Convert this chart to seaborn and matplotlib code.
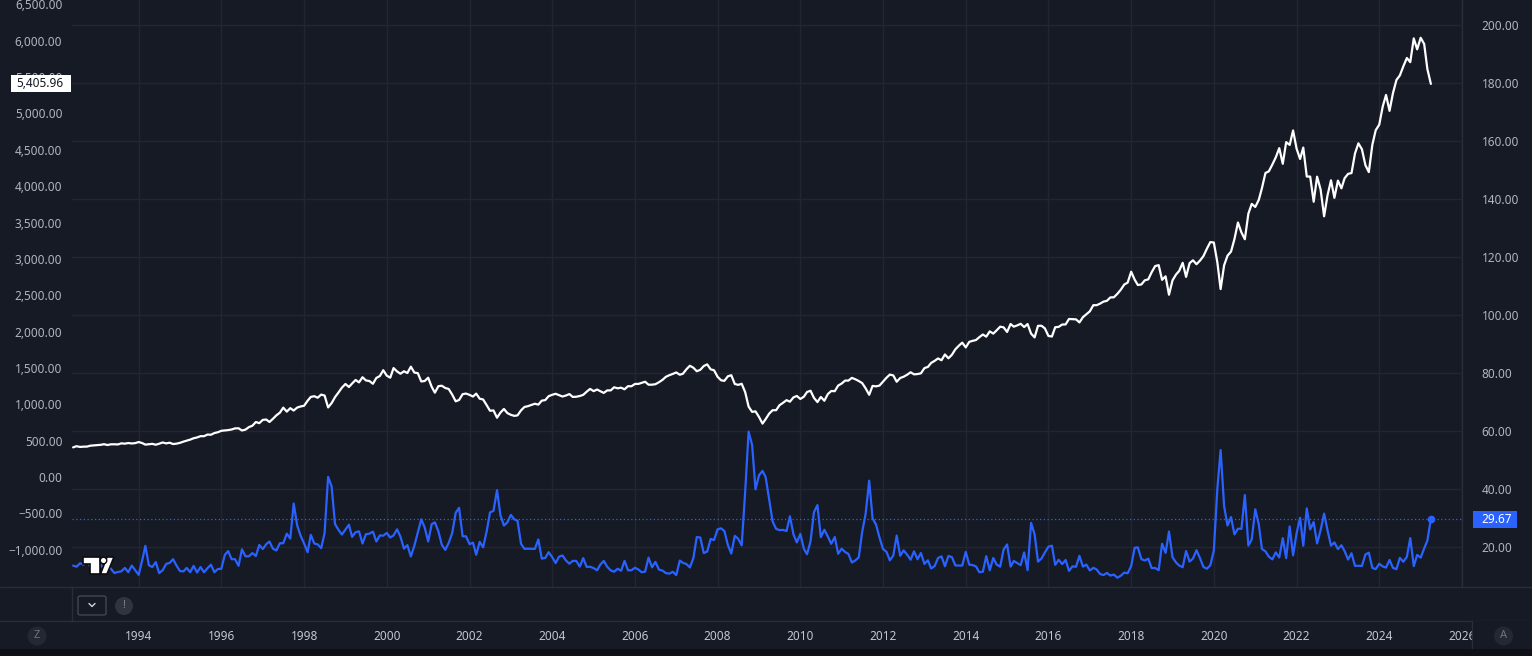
import pandas as pd
import matplotlib
matplotlib.use('Agg')
import matplotlib.pyplot as plt
import matplotlib.dates as mdates
import matplotlib.ticker as mticker
from matplotlib.patches import Rectangle, FancyBboxPatch, Ellipse, Polygon
from matplotlib.lines import Line2D
import seaborn as sns

# monthly closes, first bar is June 1992, last one is the running April 2025 bar
first_month = '1992-06-01'

spx_close = [
    408.14, 424.21, 414.03, 417.80, 418.68, 431.35, 435.71,
    438.78, 443.38, 451.67, 440.19, 450.19, 450.53, 448.13, 463.56, 458.93, 467.83, 461.79, 466.45,
    481.61, 467.14, 445.77, 450.91, 456.50, 444.27, 458.26, 475.49, 462.69, 472.35, 453.69, 459.27,
    470.42, 487.39, 500.71, 514.71, 533.40, 544.75, 562.06, 561.88, 584.41, 581.50, 605.37, 615.93,
    636.02, 640.43, 645.50, 654.17, 669.12, 670.63, 639.95, 651.99, 687.31, 705.27, 757.02, 740.74,
    786.16, 790.82, 757.12, 801.34, 848.28, 885.14, 954.31, 899.47, 947.28, 914.62, 955.40, 970.43,
    980.28, 1049.34, 1101.75, 1111.75, 1090.82, 1133.84, 1120.67, 957.28, 1017.01, 1098.67, 1163.63, 1229.23,
    1279.64, 1238.33, 1286.37, 1335.18, 1301.84, 1372.71, 1328.72, 1320.41, 1282.71, 1362.93, 1388.91, 1469.25,
    1394.46, 1366.42, 1498.58, 1452.43, 1420.60, 1454.60, 1430.83, 1517.68, 1436.51, 1429.40, 1314.95, 1320.28,
    1366.01, 1239.94, 1160.33, 1249.46, 1255.82, 1224.38, 1211.23, 1133.58, 1040.94, 1059.78, 1139.45, 1148.08,
    1130.20, 1106.73, 1147.39, 1076.92, 1067.14, 989.82, 911.62, 916.07, 815.28, 885.76, 936.31, 879.82,
    855.70, 841.15, 848.18, 916.92, 963.59, 974.50, 990.31, 1008.01, 995.97, 1050.71, 1058.20, 1111.92,
    1131.13, 1144.94, 1126.21, 1107.30, 1120.68, 1140.84, 1101.72, 1104.24, 1114.58, 1130.20, 1173.82, 1211.92,
    1181.27, 1203.60, 1180.59, 1156.85, 1191.50, 1191.33, 1234.18, 1220.33, 1228.81, 1207.01, 1249.48, 1248.29,
    1280.08, 1280.66, 1294.83, 1310.61, 1270.09, 1270.20, 1276.66, 1303.82, 1335.85, 1377.94, 1400.63, 1418.30,
    1438.24, 1406.82, 1420.86, 1482.37, 1530.62, 1503.35, 1455.27, 1473.99, 1526.75, 1549.38, 1481.14, 1468.36,
    1378.55, 1330.63, 1322.70, 1385.59, 1400.38, 1280.00, 1267.38, 1282.83, 1166.36, 968.75, 896.24, 903.25,
    825.88, 735.09, 797.87, 872.81, 919.14, 919.32, 987.48, 1020.62, 1057.08, 1036.19, 1095.63, 1115.10,
    1073.87, 1104.49, 1169.43, 1186.69, 1089.41, 1030.71, 1101.60, 1049.33, 1141.20, 1183.26, 1180.55, 1257.64,
    1286.12, 1327.22, 1325.83, 1363.61, 1345.20, 1320.64, 1292.28, 1218.89, 1131.42, 1253.30, 1246.96, 1257.60,
    1312.41, 1365.68, 1408.47, 1397.91, 1310.33, 1362.16, 1379.32, 1406.58, 1440.67, 1412.16, 1416.18, 1426.19,
    1498.11, 1514.68, 1569.19, 1597.57, 1630.74, 1606.28, 1685.73, 1632.97, 1681.55, 1756.54, 1805.81, 1848.36,
    1782.59, 1859.45, 1872.34, 1883.95, 1923.57, 1960.23, 1930.67, 2003.37, 1972.29, 2018.05, 2067.56, 2058.90,
    1994.99, 2104.50, 2067.89, 2085.51, 2107.39, 2063.11, 2103.84, 1972.18, 1920.03, 2079.36, 2080.41, 2043.94,
    1940.24, 1932.23, 2059.74, 2065.30, 2096.95, 2098.86, 2173.60, 2170.95, 2168.27, 2126.15, 2198.81, 2238.83,
    2278.87, 2363.64, 2362.72, 2384.20, 2411.80, 2423.41, 2470.30, 2471.65, 2519.36, 2575.26, 2647.58, 2673.61,
    2823.81, 2713.83, 2640.87, 2648.05, 2705.27, 2718.37, 2816.29, 2901.52, 2913.98, 2711.74, 2760.17, 2506.85,
    2704.10, 2784.49, 2834.40, 2945.83, 2752.06, 2941.76, 2980.38, 2926.46, 2976.74, 3037.56, 3140.98, 3230.78,
    3225.52, 2954.22, 2584.59, 2912.43, 3044.31, 3100.29, 3271.12, 3500.31, 3363.00, 3269.96, 3621.63, 3756.07,
    3714.24, 3811.15, 3972.89, 4181.17, 4204.11, 4297.50, 4395.26, 4522.68, 4307.54, 4605.38, 4567.00, 4766.18,
    4515.55, 4373.94, 4530.41, 4131.93, 4132.15, 3785.38, 4130.29, 3955.00, 3585.62, 3871.98, 4080.11, 3839.50,
    4076.60, 3970.15, 4109.31, 4169.48, 4179.83, 4450.38, 4588.96, 4507.66, 4288.05, 4193.80, 4567.80, 4769.83,
    4845.65, 5096.27, 5254.35, 5035.69, 5277.51, 5460.48, 5522.30, 5648.40, 5762.48, 5705.45, 6032.38, 5881.63,
    6040.53, 5954.50, 5611.85, 5405.96,
]

vix_close = [
    13.7, 13.3, 14.5, 14.0, 15.5, 13.2, 12.6,
    12.8, 14.0, 12.4, 13.5, 12.6, 11.1, 11.5, 11.7, 12.9, 11.4, 13.7, 12.1,
    10.5, 15.5, 20.5, 13.8, 13.2, 14.9, 11.1, 12.1, 14.3, 14.6, 15.9, 13.7,
    11.8, 11.7, 12.9, 11.4, 13.6, 11.3, 13.2, 11.4, 12.8, 14.0, 11.4, 12.5,
    12.6, 17.4, 18.7, 15.9, 15.9, 13.6, 19.3, 16.9, 16.9, 18.0, 17.0, 20.8,
    19.4, 21.1, 22.0, 19.5, 18.9, 21.4, 21.4, 24.7, 23.0, 35.1, 27.5, 24.0,
    21.3, 18.3, 24.3, 21.3, 21.0, 19.7, 24.9, 44.3, 41.0, 28.0, 26.0, 24.4,
    26.1, 27.8, 23.6, 25.2, 25.5, 21.3, 24.5, 24.7, 25.4, 22.0, 24.1, 24.0,
    24.95, 23.37, 24.11, 26.20, 23.65, 19.54, 20.74, 16.84, 20.57, 25.09, 29.65, 26.85,
    22.0, 28.0, 28.6, 25.5, 20.9, 19.1, 21.5, 24.9, 31.9, 33.6, 23.8, 23.8,
    21.1, 21.6, 17.4, 21.9, 20.0, 25.4, 32.0, 32.6, 39.7, 31.1, 27.5, 28.6,
    31.17, 29.63, 29.15, 21.21, 19.47, 19.52, 19.49, 19.44, 22.72, 16.10, 16.32, 18.31,
    16.63, 14.55, 16.74, 17.19, 15.50, 14.34, 15.32, 15.29, 13.34, 16.27, 13.24, 13.29,
    12.82, 12.08, 14.02, 15.31, 13.29, 12.04, 11.57, 12.60, 11.92, 15.32, 12.06, 12.07,
    12.95, 12.34, 11.39, 11.59, 16.44, 13.08, 14.95, 12.31, 11.98, 11.10, 10.91, 11.56,
    10.42, 15.42, 14.64, 14.22, 13.05, 16.23, 23.52, 23.38, 18.00, 18.53, 22.87, 22.50,
    26.20, 26.54, 25.61, 20.79, 17.83, 23.95, 22.94, 20.65, 39.39, 59.89, 55.28, 40.00,
    44.84, 46.35, 44.14, 36.50, 28.92, 26.35, 25.92, 26.01, 25.61, 30.69, 24.51, 21.68,
    24.62, 19.50, 17.59, 22.05, 32.07, 34.54, 23.50, 26.05, 23.70, 21.20, 23.54, 17.75,
    19.53, 18.35, 17.74, 14.75, 15.45, 16.52, 25.25, 31.62, 42.96, 29.96, 27.80, 23.40,
    19.44, 18.43, 15.50, 17.15, 24.06, 17.08, 18.93, 17.47, 15.73, 18.60, 15.87, 18.02,
    14.28, 15.51, 12.70, 13.52, 16.30, 16.86, 13.45, 17.01, 16.60, 13.75, 13.70, 13.72,
    18.41, 14.00, 13.88, 13.41, 11.40, 11.57, 16.95, 12.09, 16.31, 14.03, 13.33, 19.20,
    20.97, 13.34, 15.29, 14.55, 13.84, 18.23, 12.12, 28.43, 24.50, 15.07, 16.13, 18.21,
    20.20, 20.55, 13.95, 15.70, 14.19, 15.63, 11.87, 13.42, 13.29, 17.06, 13.33, 14.04,
    11.99, 12.92, 12.37, 10.82, 10.41, 11.18, 10.26, 10.59, 9.51, 10.18, 11.28, 11.04,
    13.54, 19.85, 19.97, 15.93, 15.43, 16.09, 12.83, 12.86, 12.12, 21.23, 18.07, 25.42,
    16.57, 14.78, 13.71, 13.12, 18.71, 15.08, 16.12, 18.98, 16.24, 13.22, 12.62, 13.78,
    18.84, 40.11, 53.54, 34.15, 27.51, 30.43, 24.46, 26.41, 26.37, 38.02, 20.57, 22.75,
    33.09, 27.95, 19.40, 18.61, 16.76, 15.83, 18.24, 16.48, 23.14, 16.26, 27.19, 17.22,
    24.83, 30.15, 20.56, 33.40, 26.19, 28.71, 21.33, 25.87, 31.62, 25.88, 20.58, 21.67,
    19.40, 20.70, 18.70, 15.78, 17.94, 13.59, 13.63, 13.57, 17.52, 18.14, 12.92, 12.45,
    14.35, 13.40, 13.01, 15.65, 12.92, 12.44, 16.36, 15.00, 16.73, 23.16, 13.51, 17.35,
    16.43, 19.63, 22.28, 29.67,
]

spx_ticks = list(range(-1000, 6501, 500))
vix_ticks = list(range(20, 201, 20))

# colours of the dark terminal theme
BG = '#161a25'
GRID = '#232632'
BORDER = '#2a2e39'
TXT = '#b2b5be'
BLUE = '#2962ff'
W, H = 1532, 656

sns.set_theme(style='dark', rc={
    'axes.facecolor': BG,
    'figure.facecolor': BG,
    'grid.color': GRID,
    'xtick.color': TXT,
    'ytick.color': TXT,
})
plt.rcParams['font.family'] = ['Noto Sans', 'DejaVu Sans']
plt.rcParams['font.size'] = 8.5

df = pd.DataFrame({
    'date': pd.date_range(first_month, periods=len(spx_close), freq='MS'),
    'spx': spx_close,
    'vix': vix_close,
})


def fx(x):
    return x / W


def fy(y):
    return 1 - y / H


fig = plt.figure(figsize=(W / 100, H / 100), dpi=100)

# VIX axes carries the grid (right scale), S&P twin shows its ticks on the left
ax = fig.add_axes([fx(72), fy(587), (1462 - 72) / W, 587 / H])
ax_spx = ax.twinx()

sns.lineplot(data=df, x='date', y='vix', ax=ax, color=BLUE, linewidth=1.6)
sns.lineplot(data=df, x='date', y='spx', ax=ax_spx, color='white', linewidth=1.6)

# last value price line + dot
ax.axhline(vix_close[-1], color=BLUE, lw=0.9, ls=(0, (1, 2)))
ax.plot(df['date'].iloc[-1], vix_close[-1], 'o', color=BLUE, ms=4.5)

ax.set_xlim(pd.Timestamp('1992-05-22'), pd.Timestamp('2026-01-01'))
ax.set_ylim(6.31, 208.72)
ax_spx.set_ylim(-1512, 6560)

ax.yaxis.tick_right()
ax_spx.yaxis.tick_left()
ax.set_yticks(vix_ticks)
ax_spx.set_yticks(spx_ticks)
ax.yaxis.set_major_formatter(mticker.FuncFormatter(lambda v, p: f'{v:.2f}'))
ax_spx.yaxis.set_major_formatter(
    mticker.FuncFormatter(lambda v, p: f'{v:,.2f}'.replace('-', '\u2212')))
ax.xaxis.set_major_locator(mdates.YearLocator(2))
ax.xaxis.set_major_formatter(mdates.DateFormatter('%Y'))

ax.grid(True, color=GRID, lw=1)
ax_spx.grid(False)
ax.tick_params(axis='y', length=0, pad=14, labelsize=8.5, labelcolor=TXT)
ax_spx.tick_params(axis='y', length=0, pad=7, labelsize=8.5, labelcolor=TXT)
ax.tick_params(axis='x', length=0, pad=31, labelsize=8.5, labelcolor='#c3c6ce')
for lbl in ax.get_xticklabels():
    lbl.set_fontweight('bold')

for a in (ax, ax_spx):
    a.set_xlabel('')
    a.set_ylabel('')
    for s in a.spines.values():
        s.set_visible(False)

# panel borders
for xs, ys in [((0, W), (587, 587)), ((0, W), (621, 621)), ((1462, 1462), (0, 587)),
               ((72, 72), (587, 621)), ((1472, 1472), (621, 649))]:
    fig.add_artist(Line2D([fx(x) for x in xs], [fy(y) for y in ys], color=BORDER, lw=1))

# corner boxes of the time scale (hide the clipped part of the 2026 label)
fig.add_artist(Rectangle((fx(1472.5), fy(649)), fx(W - 1472.5), 28 / H, fc=BG, ec='none', zorder=3))
fig.add_artist(Rectangle((0, 0), 1, 7 / H, fc='#0e1016', ec='none', zorder=3))
for cx, letter in [(37, 'Z'), (1503.5, 'A')]:
    fig.add_artist(Ellipse((fx(cx), fy(636)), 19 / W, 19 / H, fc='#242833', ec='none', zorder=4))
    fig.text(fx(cx), fy(636), letter, color='#6f7380', fontsize=8, ha='center', va='center', zorder=5)

# last value labels on both scales
def fig_y_of(a, value):
    return a.transData.transform((0, value))[1] / H

y_spx = fig_y_of(ax_spx, spx_close[-1])
fig.add_artist(Rectangle((fx(11), y_spx - 8.5 / H), 60 / W, 17 / H, fc='white', ec='none', zorder=4))
fig.text(fx(16.5), y_spx, f'{spx_close[-1]:,.2f}', color='#131722', fontsize=8.5,
         ha='left', va='center', zorder=5)

y_vix = fig_y_of(ax, vix_close[-1])
fig.add_artist(Rectangle((fx(1473), y_vix - 8.5 / H), 44 / W, 17 / H, fc=BLUE, ec='none', zorder=4))
fig.text(fx(1481), y_vix, f'{vix_close[-1]:.2f}', color='white', fontsize=8.5,
         ha='left', va='center', zorder=5)

# small buttons under the chart
fig.add_artist(FancyBboxPatch((fx(78), fy(615)), 28 / W, 19 / H,
                              boxstyle='round,pad=0,rounding_size=0.002',
                              fc=BG, ec='#434651', lw=1, zorder=4))
fig.add_artist(Line2D([fx(89), fx(92), fx(95)], [fy(603.5), fy(606.5), fy(603.5)],
                      color='#d1d4dc', lw=1, zorder=5))
fig.add_artist(Ellipse((fx(124), fy(606)), 18 / W, 18 / H, fc='#30343f', ec='none', zorder=4))
fig.text(fx(124), fy(606), '!', color='#80838d', fontsize=8, fontweight='bold',
         ha='center', va='center', zorder=5)

# watermark logo
logo_parts = [
    [(83, 557), (100, 557), (100, 574), (90, 574), (90, 564), (83, 564)],
    [(107, 557), (114, 557), (107, 574), (100.5, 574)],
]
for pts in logo_parts:
    fig.add_artist(Polygon([(fx(x), fy(y)) for x, y in pts], closed=True,
                           fc='white', ec='#0b0c10', lw=1.2, zorder=4))
fig.add_artist(Ellipse((fx(103.5), fy(560.5)), 6.5 / W, 6.5 / H, fc='white',
                       ec='#0b0c10', lw=1.0, zorder=4))

fig.savefig('out.png', dpi=100, facecolor=BG)
